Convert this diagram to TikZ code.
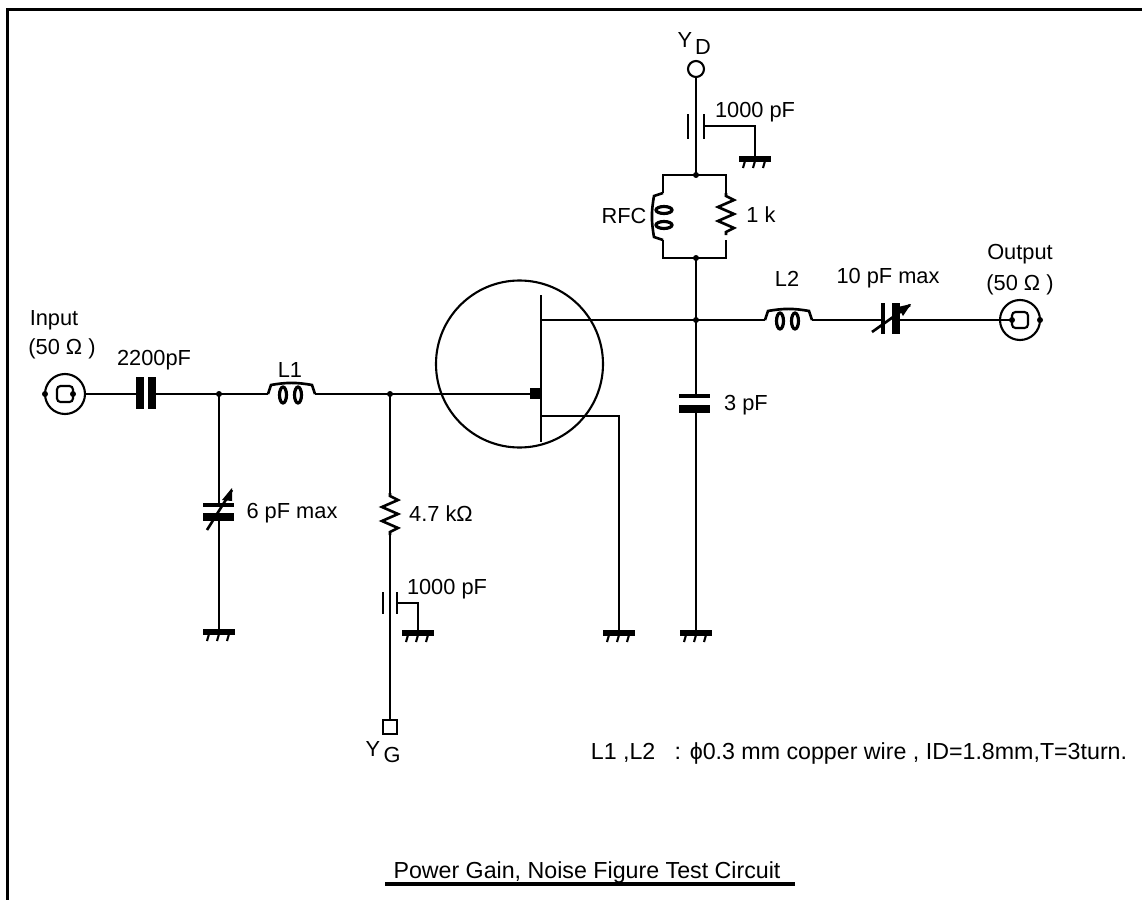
\documentclass[tikz,border=0pt]{standalone}
\usepackage{fontspec}
\setmainfont{Liberation Sans}
\tikzset{
	wire/.style={line width=.75pt},
	thinplate/.style={line width=1.1pt},
	thickplate/.style={line width=2pt},
	every label/.style={font=\fontsize{6.2}{7.5}\selectfont,inner sep=0pt,label distance=0pt,yshift=-.5pt},
	wide/.style={label={[font=\fontsize{6.6}{8}\selectfont]center:#1}},
	pics/coil/.style={code={
		\draw[wire] (0,0)--(3,-9) to[out=10,in=170] (44,-9)--(47,0);
		\draw[line width=.9pt] (15,1) ellipse (3.5 and 8);
		\draw[line width=.9pt] (30,1) ellipse (3.5 and 8);
	}},
	pics/zigzag/.style={code={
		\draw[wire] (0,0)--(3,0)--(7,-8)--(14,8)--(21,-8)--(28,8)--(35,-8)--(39,0)--(42,0);
	}},
	pics/gnd/.style={code={
		\draw[line width=1.7pt] (-16,0)--(16,0);
		\foreach \t in {-10,0,10}{
			\draw[line width=.6pt] (\t,2)--(\t-2,9);
		}
	}},
	pics/bnc/.style={code={
		\draw[line width=.6pt] (0,0) circle (20);
		\draw[line width=.6pt,rounded corners=1pt] (-8,-8) rectangle (8,8);
		\fill (-20,0) circle (3);
		\fill (8,0) circle (3);
	}}
}
\begin{document}
\begin{tikzpicture}[x=.01cm,y=-.01cm]
	\useasboundingbox (0,0) rectangle (1142,900);
	\draw[line width=1.1pt] (7.5,900)--(7.5,9.5)--(1142,9.5);
	\coordinate (In) at (65,394);
	\coordinate (InEnd) at (85,394);
	\coordinate (CinL) at (140,394);
	\coordinate (CinR) at (152,394);
	\coordinate (J1) at (219,394);
	\coordinate (L1a) at (268,394);
	\coordinate (L1b) at (315,394);
	\coordinate (J2) at (390,394);
	\coordinate (Gate) at (541,394);
	\coordinate (Cv1t) at (219,505);
	\coordinate (Cv1b) at (219,517);
	\coordinate (Gnd1) at (219,632);
	\coordinate (R1a) at (390,493);
	\coordinate (R1b) at (390,535);
	\coordinate (VG) at (390,720);
	\coordinate (Cg) at (397,603);
	\coordinate (CgK) at (418,603);
	\coordinate (Gnd2) at (418,633);
	\coordinate (Top) at (541,295);
	\coordinate (Bot) at (541,442);
	\coordinate (Drain) at (541,320);
	\coordinate (Source) at (541,416);
	\coordinate (SourceK) at (619,416);
	\coordinate (Gnd3) at (619,633);
	\coordinate (J3) at (696,320);
	\coordinate (C3t) at (696,396);
	\coordinate (C3b) at (696,409);
	\coordinate (Gnd4) at (696,633);
	\coordinate (J4) at (696,258);
	\coordinate (J5) at (696,175);
	\coordinate (VD) at (696,77);
	\coordinate (Cd) at (704,126);
	\coordinate (CdK) at (755,126);
	\coordinate (Gnd5) at (755,159);
	\coordinate (Ltop) at (663,175);
	\coordinate (Rtop) at (726,175);
	\coordinate (Lbot) at (663,258);
	\coordinate (Rbot) at (726,258);
	\coordinate (Rfca) at (663,193);
	\coordinate (Rfcb) at (663,240);
	\coordinate (R2a) at (726,193);
	\coordinate (R2b) at (726,240);
	\coordinate (L2a) at (765,320);
	\coordinate (L2b) at (812,320);
	\coordinate (CtL) at (883,320);
	\coordinate (CtR) at (896,320);
	\coordinate (OutEnd) at (1012,320);
	\coordinate (Out) at (1020,320);
	\draw[wire] (InEnd)--(CinL);
	\draw[wire] (CinR)--(J1)--(L1a);
	\draw[wire] (L1b)--(J2)--(Gate);
	\draw[wire] (J1)--(Cv1t);
	\draw[wire] (Cv1b)--(Gnd1);
	\draw[wire] (J2)--(R1a);
	\draw[wire] (R1b)--(VG);
	\draw[wire] (Cg)--(CgK)--(Gnd2);
	\draw[wire] (Top)--(Bot);
	\draw[wire] (Drain)--(J3)--(L2a);
	\draw[wire] (Source)--(SourceK)--(Gnd3);
	\draw[wire] (J3)--(C3t);
	\draw[wire] (C3b)--(Gnd4);
	\draw[wire] (J3)--(J4);
	\draw[wire] (J5)--(VD);
	\draw[wire] (Cd)--(CdK)--(Gnd5);
	\draw[wire] (Rfca)--(Ltop)--(Rtop)--(R2a);
	\draw[wire] (Rfcb)--(Lbot)--(Rbot)--(R2b);
	\draw[wire] (L2b)--(CtL);
	\draw[wire] (CtR)--(OutEnd);
	\draw[line width=.6pt] (519.5,364) circle (83.5);
	\fill (530,388) rectangle (541,399);
	\foreach \p in {J1,J2,J3,J4,J5}{
		\fill (\p) circle (3);
	}
	\pic at (In) {bnc};
	\pic[xscale=-1] at (Out) {bnc};
	\pic at (L1a) {coil};
	\pic at (L2a) {coil};
	\pic[rotate=90] at (Rfcb) {coil};
	\pic[rotate=-90] at (R1a) {zigzag};
	\pic[rotate=-90] at (R2a) {zigzag};
	\foreach \p in {Gnd1,Gnd2,Gnd3,Gnd4,Gnd5}{
		\pic at (\p) {gnd};
	}
	\draw[thickplate] (140,377)--(140,409);
	\draw[thickplate] (152,377)--(152,409);
	\draw[thinplate] (203,505)--(234,505);
	\draw[thickplate] (203,517)--(234,517);
	\draw[wire] (207,530)--(232,490);
	\fill (232,488)--(222,500)--(232,501)--cycle;
	\draw[thinplate] (679,396)--(710,396);
	\draw[thickplate] (679,409)--(710,409);
	\draw[thinplate] (883,303)--(883,334);
	\draw[thickplate] (896,303)--(896,334);
	\draw[wire] (872,332)--(910,305);
	\fill (911,304)--(898,307)--(903,316)--cycle;
	\draw[wire] (688,114)--(688,139);
	\draw[wire] (704,114)--(704,139);
	\draw[wire] (383,592)--(383,614);
	\draw[wire] (397,592)--(397,614);
	\draw[line width=.6pt,fill=white] (383,720) rectangle (397,734);
	\draw[line width=.6pt,fill=white] (696,69) circle (8);
	\draw[line width=.9pt] (385,884)--(795,884);
	\coordinate[label=center:Input] (TInput) at (54,319);
	\coordinate[label=center:(50 Ω )] (TInZ) at (62,347);
	\coordinate[label=center:2200pF] (TCin) at (154,358);
	\coordinate[label=center:L1] (TL1) at (290,368);
	\coordinate[label=center:6 pF max] (TCv) at (292,511);
	\coordinate[label=center:4.7 kΩ] (TR1) at (441,512);
	\coordinate[label=center:1000 pF] (TCg) at (447,587);
	\coordinate[label=center:Y] (TYG) at (373,747);
	\coordinate[label=center:G] (TG) at (392,753);
	\coordinate[label=center:Y] (TYD) at (685,38);
	\coordinate[label=center:D] (TD) at (703,45);
	\coordinate[label=center:1000 pF] (TCd) at (755,110);
	\coordinate[label=center:RFC] (TRfc) at (624,214);
	\coordinate[label=center:1 k] (TR2) at (761,213);
	\coordinate[label=center:L2] (TL2) at (787,277);
	\coordinate[label=center:10 pF max] (TCt) at (888,276);
	\coordinate[label=center:Output] (TOutput) at (1020,252);
	\coordinate[label=center:(50 Ω )] (TOutZ) at (1020,283);
	\coordinate[label=center:3 pF] (TC3) at (746,403);
	\coordinate[wide={L1 ,L2 \ \ : ϕ0.3 mm copper wire , ID=1.8mm,T=3turn.}] (TNote) at (859,752);
	\coordinate[wide={Power Gain, Noise Figure Test Circuit}] (TTitle) at (587,871);
\end{tikzpicture}
\end{document}
